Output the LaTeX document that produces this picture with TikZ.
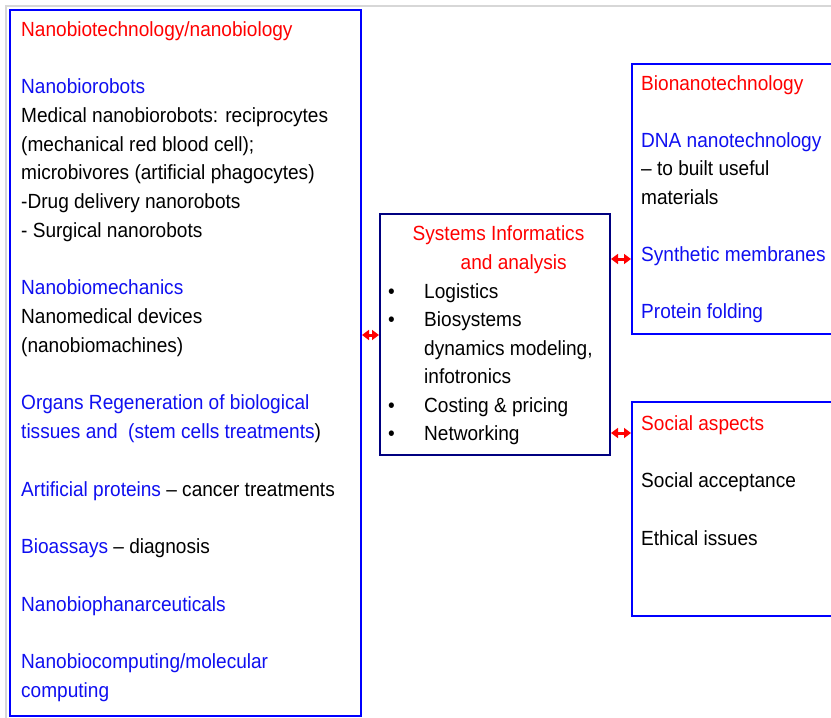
\documentclass[tikz,border=0pt]{standalone}
\usepackage{fontspec}
\setmainfont{Liberation Sans}[FakeStretch=0.93]
\usetikzlibrary{arrows.meta}
\definecolor{tred}{RGB}{255,0,0}
\definecolor{tblue}{RGB}{15,15,240}
\definecolor{bblue}{RGB}{0,0,255}
\definecolor{navy}{RGB}{0,0,128}
\definecolor{framegray}{RGB}{215,215,215}
\tikzset{
  txt/.style={anchor=base west, inner sep=0pt, font=\fontsize{20.5}{24}\selectfont},
  box/.style={draw, line width=2pt, rectangle, inner sep=0pt},
  link/.style={draw=tred, line width=3pt, {Triangle[length=7pt,width=10pt]}-{Triangle[length=7pt,width=10pt]}},
}
\begin{document}
\begin{tikzpicture}[x=1pt,y=-1pt]
\useasboundingbox (0,0) rectangle (831,718);
\clip (0,0) rectangle (831,718);
% screenshot frame
\draw[framegray, line width=2pt] (5,6) -- (831,6);
\draw[framegray, line width=2pt] (6,6) -- (6,718);
% boxes
\node[box, draw=bblue, minimum width=351, minimum height=706] (L) at (185.5,363) {};
\node[box, draw=navy, minimum width=230, minimum height=241] (M) at (495,334.5) {};
\node[box, draw=bblue, minimum width=208, minimum height=270] (RT) at (736,199) {};
\node[box, draw=bblue, minimum width=208, minimum height=214] (RB) at (736,509) {};
% left text
\node[txt, text=tred] (l0) at (21,36) {Nanobiotechnology/nanobiology};
\node[txt, text=tblue] (l2) at (21,93.5) {Nanobiorobots};
\node[txt] (l3) at (21,122.25) {Medical nanobiorobots: reciprocytes};
\node[txt] (l4) at (21,151) {(mechanical red blood cell);};
\node[txt] (l5) at (21,179.75) {microbivores (artificial phagocytes)};
\node[txt] (l6) at (21,208.5) {-Drug delivery nanorobots};
\node[txt] (l7) at (21,237.25) {- Surgical nanorobots};
\node[txt, text=tblue] (l9) at (21,294.75) {Nanobiomechanics};
\node[txt] (l10) at (21,323.5) {Nanomedical devices};
\node[txt] (l11) at (21,352.25) {(nanobiomachines)};
\node[txt, text=tblue] (l13) at (21,409.75) {Organs Regeneration of biological};
\node[txt] (l14) at (21,438.5) {{\color{tblue}tissues and\ \ (stem cells treatments})};
\node[txt] (l16) at (21,496) {{\color{tblue}Artificial proteins} -- cancer treatments};
\node[txt] (l18) at (21,553.5) {{\color{tblue}Bioassays} -- diagnosis};
\node[txt, text=tblue] (l20) at (21,611) {Nanobiophanarceuticals};
\node[txt, text=tblue] (l22) at (21,668.5) {Nanobiocomputing/molecular};
\node[txt, text=tblue] (l23) at (21,697.25) {computing};
% middle text
\node[txt, text=tred] (m0) at (412.5,240) {Systems Informatics};
\node[txt, text=tred] (m1) at (460.5,269) {and analysis};
\foreach \y/\n in {298/b1,326.5/b2,412/b3,440.5/b4}
  \node[txt] (\n) at (388,\y) {•};
\node[txt] (m2) at (424,298) {Logistics};
\node[txt] (m3) at (424,326.5) {Biosystems};
\node[txt] (m4) at (424,355) {dynamics modeling,};
\node[txt] (m5) at (424,383.5) {infotronics};
\node[txt] (m6) at (424,412) {Costing \& pricing};
\node[txt] (m7) at (424,440.5) {Networking};
% right top text
\node[txt, text=tred] (r0) at (641,90) {Bionanotechnology};
\node[txt, text=tblue] (r1) at (641,147) {DNA nanotechnology};
\node[txt] (r2) at (641,175.5) {-- to built useful};
\node[txt] (r3) at (641,204) {materials};
\node[txt, text=tblue] (r4) at (641,261.5) {Synthetic membranes};
\node[txt, text=tblue] (r5) at (641,318.5) {Protein folding};
% right bottom text
\node[txt, text=tred] (s0) at (641,430) {Social aspects};
\node[txt] (s1) at (641,487.5) {Social acceptance};
\node[txt] (s2) at (641,545) {Ethical issues};
% connectors
\draw[link] (L.east |- 0,335) -- (M.west |- 0,335);
\draw[link] (M.east |- 0,259) -- (RT.west |- 0,259);
\draw[link] (M.east |- 0,433) -- (RB.west |- 0,433);
\end{tikzpicture}
\end{document}
